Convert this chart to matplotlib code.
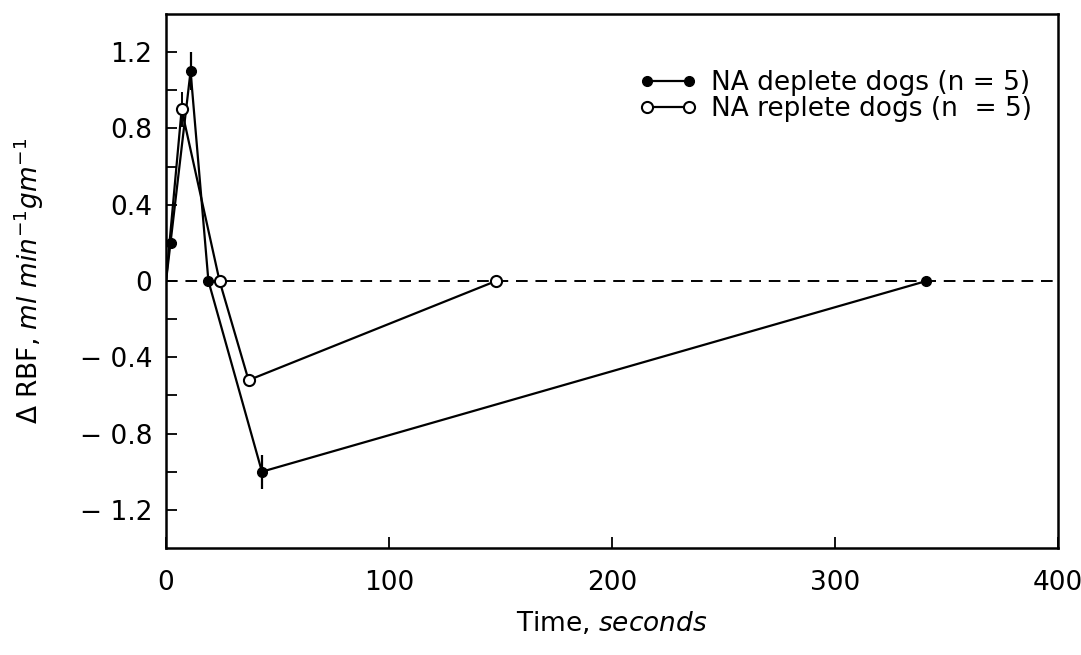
import matplotlib
matplotlib.use("Agg")
import matplotlib.pyplot as plt
import numpy as np

plt.rcParams["font.family"] = ["DejaVu Sans"]
plt.rcParams["mathtext.fontset"] = "dejavusans"

# data
deplete_t = [0, 2, 11, 19, 43, 341]
deplete_v = [0, 0.2, 1.1, 0, -1.0, 0]
deplete_err = [0, 0, 0.1, 0, 0.09, 0]

replete_t = [0, 7, 24, 37, 148]
replete_v = [0, 0.9, 0, -0.52, 0]
replete_err = [0, 0.09, 0, 0.03, 0]

fig = plt.figure(figsize=(10.81, 6.55), dpi=100)
ax = fig.add_axes([0.1536, 0.1634, 0.8251, 0.8152])

ax.axhline(0, color="black", lw=1.4, ls=(0, (6, 4)), zorder=1)

# error bars
ax.errorbar(deplete_t, deplete_v, yerr=deplete_err, fmt="none", ecolor="black",
            elinewidth=1.6, capsize=0, zorder=2)
ax.errorbar(replete_t, replete_v, yerr=replete_err, fmt="none", ecolor="black",
            elinewidth=1.4, capsize=0, zorder=2)

# lines with markers
ax.plot(deplete_t, deplete_v, color="black", lw=1.6, marker="o", ms=7,
        mfc="black", mec="black", markevery=list(range(1, len(deplete_t))),
        label="NA deplete dogs (n = 5)", zorder=3)
ax.plot(replete_t, replete_v, color="black", lw=1.6, marker="o", ms=8,
        mfc="white", mec="black", mew=1.5, markevery=list(range(1, len(replete_t))),
        label="NA replete dogs (n  = 5)", zorder=4)

ax.set_xlim(0, 400)
ax.set_ylim(-1.4, 1.4)
ax.set_xticks([0, 100, 200, 300, 400])
ax.set_yticks(np.arange(-1.2, 1.21, 0.2), minor=True)
ax.set_yticks([-1.2, -0.8, -0.4, 0, 0.4, 0.8, 1.2])
ax.set_yticklabels(["\u2212 1.2", "\u2212 0.8", "\u2212 0.4", "0", "0.4", "0.8", "1.2"])
ax.tick_params(direction="in", length=8, width=1.3, labelsize=19, pad=10)
ax.tick_params(axis="y", which="minor", direction="in", length=8, width=1.3)
ax.tick_params(axis="x", pad=16)
for s in ax.spines.values():
    s.set_linewidth(1.8)

ax.set_xlabel("Time, $\\mathit{seconds}$", fontsize=19, labelpad=10)
ax.set_ylabel("$\\Delta$ RBF, $\\mathit{ml\\ min^{-1}gm^{-1}}$", fontsize=19, labelpad=24)

leg = ax.legend(loc="upper right", bbox_to_anchor=(1.0, 0.945), frameon=False,
                fontsize=19, handlelength=2.2, numpoints=2, handletextpad=0.5,
                borderaxespad=0.6, labelspacing=0.0)

fig.savefig("out.png", dpi=100)
